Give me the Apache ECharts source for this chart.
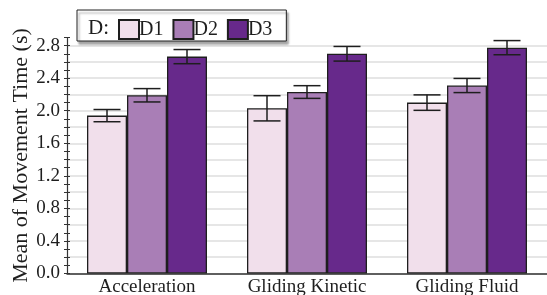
<!DOCTYPE html>
<html>
<head>
<meta charset="utf-8">
<script src="https://cdn.jsdelivr.net/npm/echarts@6/dist/echarts.min.js"></script>
<style>
  html, body { margin: 0; padding: 0; background: #fff; }
  #chart { width: 547px; height: 295px; }
</style>
</head>
<body>
<div id="chart"></div>
<script>
// 数据
var categories = ['Acceleration', 'Gliding Kinetic', 'Gliding Fluid'];
var seriesNames = ['D1', 'D2', 'D3'];
var d1Mean = [1.94, 2.03, 2.10];
var d2Mean = [2.19, 2.23, 2.31];
var d3Mean = [2.665, 2.70, 2.775];
var d1Err = [0.075, 0.155, 0.095];
var d2Err = [0.082, 0.078, 0.087];
var d3Err = [0.087, 0.09, 0.087];
var colors = ['#f1dfeb', '#a97eb6', '#67298b'];

var font = '"Liberation Serif", "Times New Roman", serif';
var ink = '#1e1e1e';
var means = [d1Mean, d2Mean, d3Mean];
var errs = [d1Err, d2Err, d3Err];

var chart = echarts.init(document.getElementById('chart'), null, { renderer: 'canvas' });

var barSeries = seriesNames.map(function (name, k) {
  return {
    name: name,
    type: 'bar',
    data: means[k],
    barGap: '0%',
    barCategoryGap: '25%',
    itemStyle: { color: colors[k], borderColor: ink, borderWidth: 1.3 },
    z: 2
  };
});

// 误差线
var errSeries = seriesNames.map(function (name, k) {
  return {
    type: 'custom',
    name: name + ' err',
    z: 5,
    data: means[k].map(function (m, i) { return [i, m - errs[k][i], m + errs[k][i]]; }),
    encode: { x: 0, y: [1, 2] },
    renderItem: function (params, api) {
      var band = api.size([1, 0])[0];
      var bw = band * 0.75 / 3;
      var lo = api.coord([api.value(0), api.value(1)]);
      var hi = api.coord([api.value(0), api.value(2)]);
      var x = lo[0] + (k - 1) * bw;
      var cap = 13.5;
      var st = { stroke: ink, lineWidth: 1.5 };
      return {
        type: 'group',
        children: [
          { type: 'line', shape: { x1: x, y1: lo[1], x2: x, y2: hi[1] }, style: st },
          { type: 'line', shape: { x1: x - cap, y1: lo[1], x2: x + cap, y2: lo[1] }, style: st },
          { type: 'line', shape: { x1: x - cap, y1: hi[1], x2: x + cap, y2: hi[1] }, style: st }
        ]
      };
    },
    silent: true
  };
});

chart.setOption({
  animation: false,
  grid: { left: 67, right: 0, top: 37.5, bottom: 21.5, outerBoundsMode: 'none', containLabel: false },
  legend: {
    data: seriesNames,
    left: 77,
    top: 10,
    padding: [9, 14, 1, 41],
    itemWidth: 20,
    itemHeight: 19,
    itemGap: 9,
    icon: 'rect',
    backgroundColor: '#fff',
    borderColor: '#222',
    borderWidth: 1,
    shadowColor: 'rgba(0,0,0,0.35)',
    shadowBlur: 2,
    shadowOffsetX: 2,
    shadowOffsetY: 3,
    textStyle: { fontFamily: font, fontSize: 20, color: ink, padding: [0, 0, 0, -5] }
  },
  graphic: [{
    type: 'text',
    x: 88,
    y: 28,
    z: 100,
    style: { text: 'D:', font: '21px ' + font, fill: ink, verticalAlign: 'middle' }
  }],
  xAxis: {
    type: 'category',
    data: categories,
    axisLine: { lineStyle: { color: '#333', width: 1.5 } },
    axisTick: { show: false },
    axisLabel: { fontFamily: font, fontSize: 19, color: ink, margin: 4 }
  },
  yAxis: [{
    type: 'value',
    min: 0,
    max: 2.9,
    interval: 0.2,
    name: 'Mean of Movement Time (s)',
    nameLocation: 'middle',
    nameGap: 35,
    nameMoveOverlap: false,
    nameTextStyle: { fontFamily: font, fontSize: 22, color: ink },
    axisLine: { show: true, lineStyle: { color: '#333', width: 1.2 } },
    axisTick: { show: true, inside: false, length: 3, lineStyle: { color: '#333' } },
    minorTick: { show: true, splitNumber: 2, length: 3, lineStyle: { color: '#333' } },
    axisLabel: {
      fontFamily: font, fontSize: 19, color: ink, margin: 7,
      formatter: function (v) {
        var n = Math.round(v * 10);
        return n % 4 === 0 ? (n / 10).toFixed(1) : '';
      }
    },
    splitLine: { show: true, showMaxLine: false, lineStyle: { color: '#dedede', width: 1.5 } }
  }, {
    type: 'value',
    position: 'left',
    min: 0,
    max: 2.9,
    interval: 0.2,
    axisLine: { show: false },
    axisTick: { show: true, inside: true, length: 3, lineStyle: { color: '#333' } },
    minorTick: { show: true, splitNumber: 2, length: 3, lineStyle: { color: '#333' } },
    axisLabel: { show: false },
    splitLine: { show: false }
  }],
  series: barSeries.concat(errSeries)
});
</script>
</body>
</html>
